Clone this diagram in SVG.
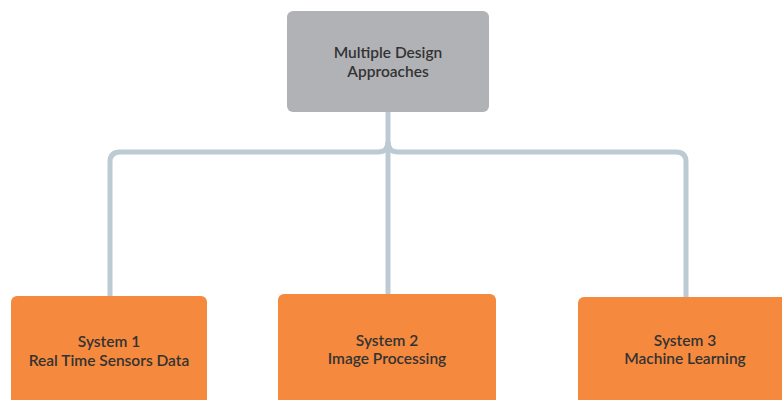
<svg xmlns="http://www.w3.org/2000/svg" width="782" height="400" viewBox="0 0 782 400">
  <style>
    .conn { fill: none; stroke: #bccbd3; stroke-width: 5; stroke-linecap: butt; stroke-linejoin: round; }
    .root { fill: #b1b2b6; }
    .sys { fill: #f5893d; }
    .lbl { font-family: Lato, "Liberation Sans", sans-serif; font-size: 15.5px; font-weight: 600; fill: #333333; text-anchor: middle; }
  </style>
  <rect width="782" height="400" fill="#ffffff"/>
  <g id="connectors">
    <path class="conn" d="M388 112 V294"/>
    <path class="conn" d="M110 296 V162 Q110 152 120 152 H378 Q388 152 388 142"/>
    <path class="conn" d="M686 297 V162 Q686 152 676 152 H398 Q388 152 388 142"/>
  </g>
  <g id="root">
    <rect class="root" x="287" y="11" width="202" height="101" rx="6"/>
    <text class="lbl" x="388" y="58">Multiple Design</text>
    <text class="lbl" x="388" y="77">Approaches</text>
  </g>
  <g id="system1">
    <rect class="sys" x="11" y="296" width="196" height="120" rx="6"/>
    <text class="lbl" x="109" y="347">System 1</text>
    <text class="lbl" x="109" y="366">Real Time Sensors Data</text>
  </g>
  <g id="system2">
    <rect class="sys" x="278" y="294" width="218" height="120" rx="6"/>
    <text class="lbl" x="387" y="346">System 2</text>
    <text class="lbl" x="387" y="364">Image Processing</text>
  </g>
  <g id="system3">
    <rect class="sys" x="578" y="297" width="214" height="120" rx="6"/>
    <text class="lbl" x="685" y="346">System 3</text>
    <text class="lbl" x="685" y="364">Machine Learning</text>
  </g>
</svg>
